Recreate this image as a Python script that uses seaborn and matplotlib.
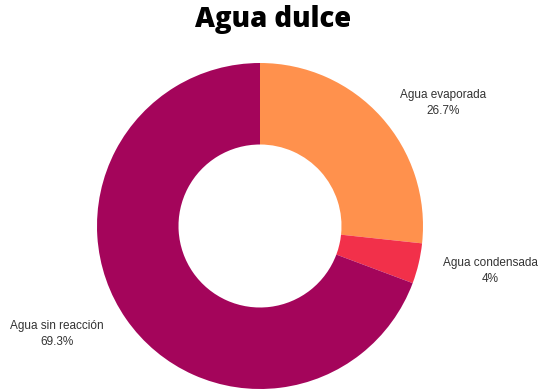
import matplotlib
matplotlib.use("Agg")
import matplotlib.pyplot as plt
import seaborn as sns

categories = ["Agua evaporada", "Agua condensada", "Agua sin reacción"]
values = [26.7, 4.0, 69.3]
value_labels = ["26.7%", "4%", "69.3%"]
colors = ["#FF914D", "#F2304A", "#A4055B"]
title = "Agua dulce"

sns.set_theme(style="white")
plt.rcParams['font.family'] = ['Liberation Sans', 'DejaVu Sans']

fig = plt.figure(figsize=(5.42, 3.89), dpi=100)
ax = fig.add_axes([97/542, 0/389, 326/542, 326/389])
ax.pie(values, colors=colors, startangle=90, counterclock=False,
       wedgeprops=dict(width=0.5, linewidth=0))
ax.set_xlim(-1, 1)
ax.set_ylim(-1, 1)
ax.set_aspect('equal')
ax.axis('off')

label_pos = [(1.123, 0.755), (1.411, -0.276), (-1.245, -0.663)]
for (x, y), cat, lab in zip(label_pos, categories, value_labels):
    ax.text(x, y, f"{cat}\n{lab}", ha='center', va='center', fontsize=8.5,
            color='#333333', clip_on=False, linespacing=1.35)

fig.text(273/542, 1 - 19/389, title, ha='center', va='center', fontsize=19.8,
         fontweight='heavy', family=['Open Sans', 'DejaVu Sans'], color='black')

fig.savefig("out.png", dpi=100, facecolor='white')
